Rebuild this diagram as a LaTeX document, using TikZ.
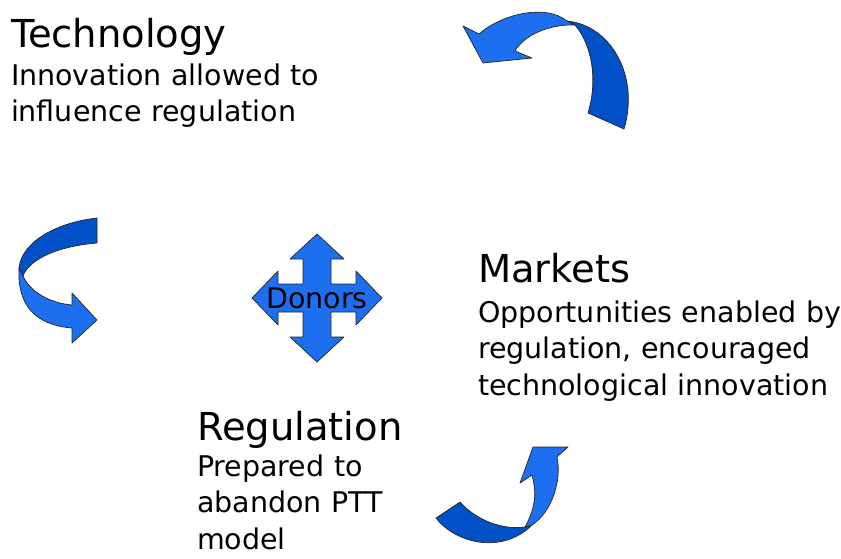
\documentclass[tikz,border=0pt]{standalone}
\usepackage{fontspec}
\setmainfont{DejaVu Sans}
\usetikzlibrary{positioning}
\definecolor{arrowlight}{RGB}{30,110,240}
\definecolor{arrowdark}{RGB}{0,80,200}

\begin{document}
\begin{tikzpicture}[x=1pt,y=-1pt]
\tikzstyle{every node}=[inner sep=0pt,outer sep=0pt];
\tikzstyle{heading}=[anchor=base west,font=\fontsize{38.5}{40}\selectfont];
\tikzstyle{blurb}=[anchor=base west,text width=370pt,align=left,font=\fontsize{28.5}{36.5}\selectfont];
\tikzstyle{lightpart}=[fill=arrowlight,draw=black!85,line width=0.7pt,line join=round];
\tikzstyle{darkpart}=[fill=arrowdark,draw=black!85,line width=0.7pt,line join=round];
\useasboundingbox (0,0) rectangle (841,558);

% the three headings and what they say
\node[heading] (tech) at (11,47) {Technology};
\node[blurb,below=38pt of tech.base west,anchor=base west] (techtext)
	{Innovation allowed to\\influence regulation};
\node[heading] (mark) at (478,282) {Markets};
\node[blurb,below=40pt of mark.base west,anchor=base west] (marktext)
	{Opportunities enabled by\\regulation, encouraged\\technological innovation};
\node[heading] (reg) at (197,440) {Regulation};
\node[blurb,below=36pt of reg.base west,anchor=base west] (regtext)
	{Prepared to\\abandon PTT\\model};

% top arrow (markets -> technology)
\draw[darkpart] (567,21) .. controls (610,25) and (640,75) .. (624,129)
	-- (588,113) .. controls (598,80) and (592,45) .. (575,25) -- cycle;
\draw[lightpart] (463,26) -- (479,34) .. controls (500,15) and (545,3) .. (567,21)
	-- (575,25) .. controls (545,24) and (522,38) .. (515,51)
	-- (532,58) -- (483,63) -- cycle;

% left arrow (technology -> regulation)
\draw[darkpart] (97,218) .. controls (60,222) and (22,240) .. (19,268)
	-- (23,276) .. controls (30,258) and (60,246) .. (97,243) -- cycle;
\draw[lightpart] (19,268) .. controls (17,305) and (35,325) .. (72,328)
	-- (72,343) -- (97,320) -- (72,293) -- (72,305)
	.. controls (50,303) and (30,292) .. (23,276) -- cycle;

% bottom arrow (regulation -> markets)
\draw[darkpart] (436,518) .. controls (455,543) and (502,555) .. (532,525)
	-- (525,527) .. controls (505,530) and (478,522) .. (460,502) -- cycle;
\draw[lightpart] (525,527) .. controls (537,505) and (536,490) .. (532,475)
	-- (520,483) -- (533,447) -- (568,447) -- (557,457)
	.. controls (562,480) and (552,512) .. (532,525) -- cycle;

% donors in the middle
\draw[lightpart] (317,234) -- (344,259) -- (331,259) -- (331,284) -- (356,284)
	-- (356,271) -- (382,298) -- (356,325) -- (356,312) -- (331,312)
	-- (331,337) -- (344,337) -- (317,362) -- (290,337) -- (303,337)
	-- (303,312) -- (278,312) -- (278,325) -- (252,298) -- (278,271)
	-- (278,284) -- (303,284) -- (303,259) -- (290,259) -- cycle;
\node[font=\fontsize{28.5}{30}\selectfont] (donors) at (317,298) {Donors};
\end{tikzpicture}
\end{document}
